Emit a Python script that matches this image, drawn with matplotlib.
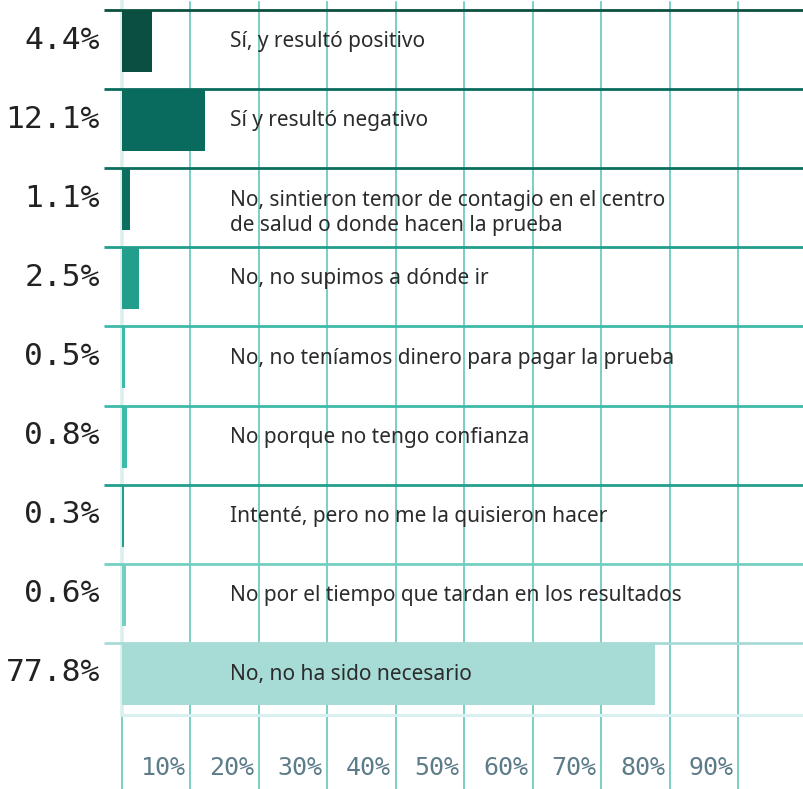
import matplotlib
matplotlib.use("Agg")
import matplotlib.pyplot as plt

# survey answers, top to bottom
labels = [
    "Sí, y resultó positivo",
    "Sí y resultó negativo",
    "No, sintieron temor de contagio en el centro\nde salud o donde hacen la prueba",
    "No, no supimos a dónde ir",
    "No, no teníamos dinero para pagar la prueba",
    "No porque no tengo confianza",
    "Intenté, pero no me la quisieron hacer",
    "No por el tiempo que tardan en los resultados",
    "No, no ha sido necesario",
]
values = [4.4, 12.1, 1.1, 2.5, 0.5, 0.8, 0.3, 0.6, 77.8]
value_labels = ["4.4%", "12.1%", "1.1%", "2.5%", "0.5%", "0.8%", "0.3%", "0.6%", "77.8%"]
colors = ["#0a4f40", "#096b5e", "#0b6e5f", "#219e8c", "#3dbaa8",
          "#3dbaa8", "#219e8c", "#74cfc3", "#a6dbd6"]
ticks = [10, 20, 30, 40, 50, 60, 70, 80, 90]
tick_labels = ["10%", "20%", "30%", "40%", "50%", "60%", "70%", "80%", "90%"]

# layout (pixels)
W, H = 804, 789
zero_px = 122
px_pct = 6.85
top_px = 10
row_px = 79.1

fig = plt.figure(figsize=(W / 100, H / 100), dpi=100)
ax = fig.add_axes([0, 0, 1, 1])
ax.set_xlim(-zero_px / px_pct, (W - zero_px) / px_pct)
ax.set_ylim((H - top_px) / row_px, -top_px / row_px)
ax.axis("off")

n = len(values)
y_bottom = (715 - top_px) / row_px
y_fig_top = -top_px / row_px
y_fig_bot = (H - top_px) / row_px

# vertical grid
for t in ticks:
    ax.plot([t, t], [(2 - top_px) / row_px, y_fig_bot], color="#55c4b3", lw=1.1, zorder=1)
ax.plot([0, 0], [y_bottom, y_fig_bot], color="#55c4b3", lw=1.1, zorder=1)
ax.plot([0, 0], [y_fig_top, y_bottom], color="#d9f0ee", lw=2.6, zorder=1)

line_start = (104 - zero_px) / px_pct
x_end = (W - zero_px) / px_pct
bar_h = 62 / row_px
line_gap = 26 / row_px
for i in range(n):
    ax.plot([line_start, x_end], [i, i], color=colors[i], lw=2.0,
            solid_capstyle="butt", zorder=2, clip_on=False)
    ax.barh(i, values[i], height=bar_h, left=0, align="edge",
            color=colors[i], zorder=3)
    # baseline of a multi-line label sits on its last line
    extra = labels[i].count("\n") * line_gap
    ax.text((230 - zero_px) / px_pct, i + 0.47 + extra, labels[i], fontsize=15,
            family="Noto Sans", color="#2b2b2b", ha="left", va="baseline",
            linespacing=1.25, zorder=4)
    ax.text((100 - zero_px) / px_pct, i + 0.38, value_labels[i], fontsize=22.5,
            family="DejaVu Sans Mono", color="#222222", ha="right", va="center",
            zorder=4)

# bottom rule
ax.plot([0, x_end], [y_bottom, y_bottom], color="#d9f0ee", lw=2.2,
        solid_capstyle="butt", zorder=2)

# tick labels, right-aligned against each grid line
for t, tl in zip(ticks, tick_labels):
    ax.text(t - 0.7, (768 - top_px) / row_px, tl, fontsize=18,
            family="DejaVu Sans Mono", color="#5d7c89", ha="right", va="center",
            zorder=4)

fig.savefig("out.png", dpi=100)
